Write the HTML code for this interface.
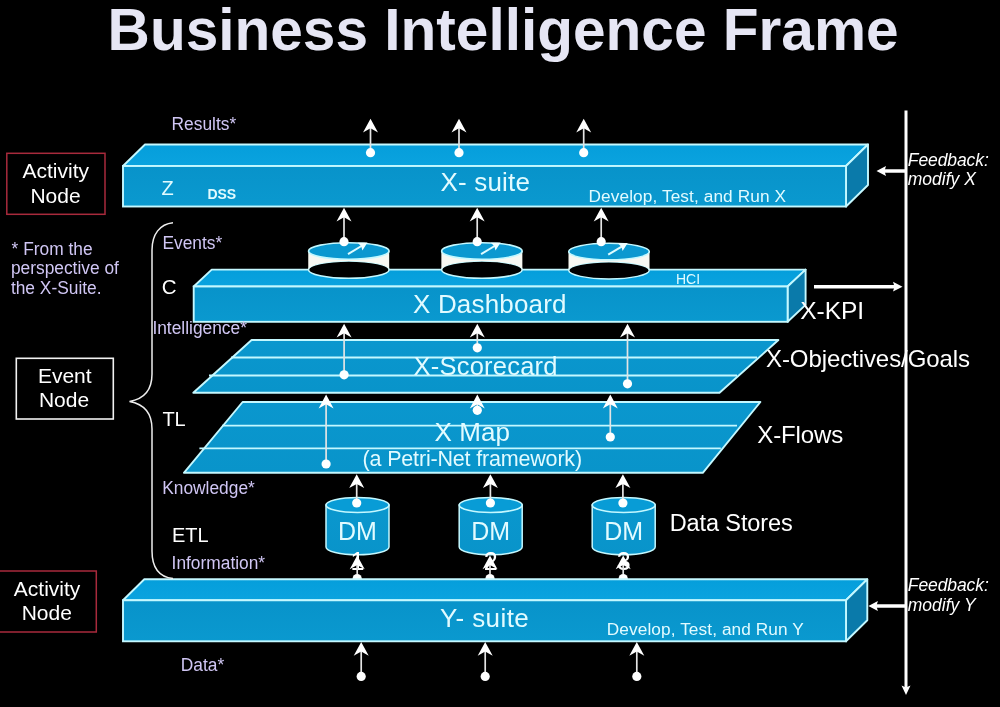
<!DOCTYPE html>
<html><head><meta charset="utf-8"><title>Business Intelligence Frame</title>
<style>html,body{margin:0;padding:0;background:#000;}body{width:1000px;height:707px;overflow:hidden;}svg{display:block}</style>
</head><body>
<svg style="will-change:transform" width="1000" height="707" viewBox="0 0 1000 707">
<defs>
<linearGradient id="gFront" x1="0" y1="0" x2="0" y2="1"><stop offset="0" stop-color="#0893ca"/><stop offset="1" stop-color="#0a99cf"/></linearGradient>
<linearGradient id="gTop" x1="0" y1="0" x2="0" y2="1"><stop offset="0" stop-color="#059edb"/><stop offset="1" stop-color="#0aa3df"/></linearGradient>
<linearGradient id="gPar" x1="0" y1="0" x2="0" y2="1"><stop offset="0" stop-color="#0a97ce"/><stop offset="1" stop-color="#0994ca"/></linearGradient>
</defs>
<rect width="1000" height="707" fill="#000"/>
<text x="107.6" y="49.5" font-size="59.5" fill="#e6e6f4" text-anchor="start" font-family="Liberation Sans, sans-serif" font-weight="bold" textLength="791" lengthAdjust="spacingAndGlyphs">Business Intelligence Frame</text>
<line x1="906" y1="110.5" x2="906" y2="688" stroke="#ffffff" stroke-width="3"/>
<polygon points="906,695 901.5,685.5 906,687.5 910.5,685.5" fill="#ffffff"/>
<circle cx="357.2" cy="578.6" r="4.6" fill="#fff"/>
<circle cx="490" cy="578.6" r="4.6" fill="#fff"/>
<circle cx="623.2" cy="578.6" r="4.6" fill="#fff"/>
<polygon points="123,166 145,144.5 868,144.5 846,166" fill="url(#gTop)" stroke="#c4f8ff" stroke-width="1.9" stroke-linejoin="round"/>
<polygon points="846,166 868,144.5 868,185.0 846,206.5" fill="#0a7aaa" stroke="#c4f8ff" stroke-width="1.9" stroke-linejoin="round"/>
<rect x="123" y="166" width="723" height="40.5" fill="url(#gFront)" stroke="#c4f8ff" stroke-width="1.9"/>
<text x="161.5" y="195.4" font-size="20" fill="#e2fbff" text-anchor="start" font-family="Liberation Sans, sans-serif" >Z</text>
<text x="207.4" y="199" font-size="14" fill="#e2fbff" text-anchor="start" font-family="Liberation Sans, sans-serif" font-weight="bold">DSS</text>
<text x="440.5" y="190.8" font-size="26" fill="#e2fbff" text-anchor="start" font-family="Liberation Sans, sans-serif" textLength="89.4">X- suite</text>
<text x="588.5" y="201.5" font-size="17.25" fill="#e2fbff" text-anchor="start" font-family="Liberation Sans, sans-serif" textLength="197.5">Develop, Test, and Run X</text>
<polygon points="123,600.3 144.3,579.3 867.3,579.3 846,600.3" fill="url(#gTop)" stroke="#c4f8ff" stroke-width="1.9" stroke-linejoin="round"/>
<polygon points="846,600.3 867.3,579.3 867.3,620.3 846,641.3" fill="#0a7aaa" stroke="#c4f8ff" stroke-width="1.9" stroke-linejoin="round"/>
<rect x="123" y="600.3" width="723" height="41.0" fill="url(#gFront)" stroke="#c4f8ff" stroke-width="1.9"/>
<text x="440" y="626.8" font-size="26" fill="#e2fbff" text-anchor="start" font-family="Liberation Sans, sans-serif" textLength="88.8">Y- suite</text>
<text x="606.8" y="635.2" font-size="17.25" fill="#e2fbff" text-anchor="start" font-family="Liberation Sans, sans-serif" textLength="197">Develop, Test, and Run Y</text>
<polygon points="193.7,286.5 211.7,269.6 805.6,269.6 787.6,286.5" fill="url(#gTop)" stroke="#c4f8ff" stroke-width="1.9" stroke-linejoin="round"/>
<polygon points="787.6,286.5 805.6,269.6 805.6,304.90000000000003 787.6,321.8" fill="#0a7aaa" stroke="#c4f8ff" stroke-width="1.9" stroke-linejoin="round"/>
<rect x="193.7" y="286.5" width="593.9000000000001" height="35.30000000000001" fill="url(#gFront)" stroke="#c4f8ff" stroke-width="1.9"/>
<text x="413" y="312.8" font-size="26" fill="#e2fbff" text-anchor="start" font-family="Liberation Sans, sans-serif" textLength="153.5">X Dashboard</text>
<text x="676" y="284" font-size="14" fill="#e2fbff" text-anchor="start" font-family="Liberation Sans, sans-serif" >HCI</text>
<polygon points="251.6,340 778.4,340 719.5,392.8 193.3,392.8" fill="url(#gPar)" stroke="#c4f8ff" stroke-width="1.9" stroke-linejoin="round"/>
<line x1="231" y1="357.5" x2="757" y2="357.5" stroke="#c4f8ff" stroke-width="1.8"/>
<line x1="209" y1="375.5" x2="737" y2="375.5" stroke="#c4f8ff" stroke-width="1.8"/>
<text x="413.5" y="375" font-size="25.5" fill="#e2fbff" text-anchor="start" font-family="Liberation Sans, sans-serif" textLength="144">X-Scorecard</text>
<polygon points="242.6,402 760.4,402 702.8,472.8 183.9,472.8" fill="url(#gPar)" stroke="#c4f8ff" stroke-width="1.9" stroke-linejoin="round"/>
<line x1="222" y1="425.7" x2="737" y2="425.7" stroke="#c4f8ff" stroke-width="1.8"/>
<line x1="199.4" y1="448.4" x2="720.8" y2="448.4" stroke="#c4f8ff" stroke-width="1.8"/>
<text x="434.5" y="440.7" font-size="26" fill="#e2fbff" text-anchor="start" font-family="Liberation Sans, sans-serif" textLength="75.5">X Map</text>
<text x="362.6" y="465.8" font-size="21.5" fill="#e2fbff" text-anchor="start" font-family="Liberation Sans, sans-serif" textLength="219.5">(a Petri-Net framework)</text>
<path d="M308.5,251 L308.5,269.7 A40.3,8.3 0 0 0 389.1,269.7 L389.1,251 Z" fill="#f8f8f2"/>
<ellipse cx="348.8" cy="269.7" rx="40.3" ry="8.600000000000001" fill="#000" stroke="#c4f8ff" stroke-width="1.5"/>
<path d="M308.5,251 L308.5,269.7 A40.3,8.600000000000001 0 0 1 389.1,269.7 L389.1,251 A40.3,8.3 0 0 1 308.5,251 Z" fill="#f8f8f2"/>
<ellipse cx="348.8" cy="251" rx="40.3" ry="8.3" fill="#0a98d0" stroke="#c4f8ff" stroke-width="1.6"/>
<line x1="348.0" y1="254.1" x2="362.3" y2="245.5" stroke="#dffcff" stroke-width="2"/>
<polygon points="367.5,242.4 362.40000000000003,250.4 361.2,246.2 357.7,242.7" fill="#f0ffff"/>
<path d="M441.59999999999997,251 L441.59999999999997,269.7 A40.3,8.3 0 0 0 522.1999999999999,269.7 L522.1999999999999,251 Z" fill="#f8f8f2"/>
<ellipse cx="481.9" cy="269.7" rx="40.3" ry="8.600000000000001" fill="#000" stroke="#c4f8ff" stroke-width="1.5"/>
<path d="M441.59999999999997,251 L441.59999999999997,269.7 A40.3,8.600000000000001 0 0 1 522.1999999999999,269.7 L522.1999999999999,251 A40.3,8.3 0 0 1 441.59999999999997,251 Z" fill="#f8f8f2"/>
<ellipse cx="481.9" cy="251" rx="40.3" ry="8.3" fill="#0a98d0" stroke="#c4f8ff" stroke-width="1.6"/>
<line x1="481.09999999999997" y1="254.1" x2="495.4" y2="245.5" stroke="#dffcff" stroke-width="2"/>
<polygon points="500.59999999999997,242.4 495.5,250.4 494.29999999999995,246.2 490.79999999999995,242.7" fill="#f0ffff"/>
<path d="M568.7,251.6 L568.7,270.3 A40.3,8.3 0 0 0 649.3,270.3 L649.3,251.6 Z" fill="#f8f8f2"/>
<ellipse cx="609" cy="270.3" rx="40.3" ry="8.600000000000001" fill="#000" stroke="#c4f8ff" stroke-width="1.5"/>
<path d="M568.7,251.6 L568.7,270.3 A40.3,8.600000000000001 0 0 1 649.3,270.3 L649.3,251.6 A40.3,8.3 0 0 1 568.7,251.6 Z" fill="#f8f8f2"/>
<ellipse cx="609" cy="251.6" rx="40.3" ry="8.3" fill="#0a98d0" stroke="#c4f8ff" stroke-width="1.6"/>
<line x1="608.2" y1="254.7" x2="622.5" y2="246.1" stroke="#dffcff" stroke-width="2"/>
<polygon points="627.7,243.0 622.6,251.0 621.4,246.79999999999998 617.9,243.29999999999998" fill="#f0ffff"/>
<path d="M326.0,505 L326.0,547 A31.5,7.8 0 0 0 389.0,547 L389.0,505 Z" fill="url(#gPar)" stroke="#c4f8ff" stroke-width="1.5"/>
<ellipse cx="357.5" cy="505" rx="31.5" ry="7.5" fill="#089cd6" stroke="#c4f8ff" stroke-width="1.6"/>
<text x="357.5" y="539.8" font-size="25" fill="#e2fbff" text-anchor="middle" font-family="Liberation Sans, sans-serif" >DM</text>
<text x="357.5" y="569.5" font-size="25" fill="#ffffff" text-anchor="middle" font-family="Liberation Sans, sans-serif" >1</text>
<path d="M459.2,505 L459.2,547 A31.5,7.8 0 0 0 522.2,547 L522.2,505 Z" fill="url(#gPar)" stroke="#c4f8ff" stroke-width="1.5"/>
<ellipse cx="490.7" cy="505" rx="31.5" ry="7.5" fill="#089cd6" stroke="#c4f8ff" stroke-width="1.6"/>
<text x="490.7" y="539.8" font-size="25" fill="#e2fbff" text-anchor="middle" font-family="Liberation Sans, sans-serif" >DM</text>
<text x="490.7" y="569.5" font-size="25" fill="#ffffff" text-anchor="middle" font-family="Liberation Sans, sans-serif" >2</text>
<path d="M592.2,505 L592.2,547 A31.5,7.8 0 0 0 655.2,547 L655.2,505 Z" fill="url(#gPar)" stroke="#c4f8ff" stroke-width="1.5"/>
<ellipse cx="623.7" cy="505" rx="31.5" ry="7.5" fill="#089cd6" stroke="#c4f8ff" stroke-width="1.6"/>
<text x="623.7" y="539.8" font-size="25" fill="#e2fbff" text-anchor="middle" font-family="Liberation Sans, sans-serif" >DM</text>
<text x="623.7" y="569.5" font-size="25" fill="#ffffff" text-anchor="middle" font-family="Liberation Sans, sans-serif" >3</text>
<line x1="370.5" y1="126.7" x2="370.5" y2="152.7" stroke="#e4e4e4" stroke-width="1.7"/>
<polygon points="370.5,118.7 363.0,132.5 370.5,128.3 378.0,132.5" fill="#ffffff"/>
<circle cx="370.5" cy="152.7" r="4.6" fill="#ffffff"/>
<line x1="459" y1="126.7" x2="459" y2="152.7" stroke="#e4e4e4" stroke-width="1.7"/>
<polygon points="459,118.7 451.5,132.5 459,128.3 466.5,132.5" fill="#ffffff"/>
<circle cx="459" cy="152.7" r="4.6" fill="#ffffff"/>
<line x1="583.7" y1="126.7" x2="583.7" y2="152.7" stroke="#e4e4e4" stroke-width="1.7"/>
<polygon points="583.7,118.7 576.2,132.5 583.7,128.3 591.2,132.5" fill="#ffffff"/>
<circle cx="583.7" cy="152.7" r="4.6" fill="#ffffff"/>
<line x1="344" y1="215.7" x2="344" y2="241.7" stroke="#e4e4e4" stroke-width="1.7"/>
<polygon points="344,207.7 336.5,221.5 344,217.29999999999998 351.5,221.5" fill="#ffffff"/>
<circle cx="344" cy="241.7" r="4.6" fill="#ffffff"/>
<line x1="477.2" y1="215.7" x2="477.2" y2="241.7" stroke="#e4e4e4" stroke-width="1.7"/>
<polygon points="477.2,207.7 469.7,221.5 477.2,217.29999999999998 484.7,221.5" fill="#ffffff"/>
<circle cx="477.2" cy="241.7" r="4.6" fill="#ffffff"/>
<line x1="601.2" y1="215.7" x2="601.2" y2="241.7" stroke="#e4e4e4" stroke-width="1.7"/>
<polygon points="601.2,207.7 593.7,221.5 601.2,217.29999999999998 608.7,221.5" fill="#ffffff"/>
<circle cx="601.2" cy="241.7" r="4.6" fill="#ffffff"/>
<line x1="344.1" y1="331.7" x2="344.1" y2="374.8" stroke="#e4e4e4" stroke-width="1.7"/>
<polygon points="344.1,323.7 336.6,337.5 344.1,333.3 351.6,337.5" fill="#ffffff"/>
<circle cx="344.1" cy="374.8" r="4.6" fill="#ffffff"/>
<line x1="477.3" y1="331.7" x2="477.3" y2="347.8" stroke="#e4e4e4" stroke-width="1.7"/>
<polygon points="477.3,323.7 469.8,337.5 477.3,333.3 484.8,337.5" fill="#ffffff"/>
<circle cx="477.3" cy="347.8" r="4.6" fill="#ffffff"/>
<line x1="627.5" y1="331.7" x2="627.5" y2="383.8" stroke="#e4e4e4" stroke-width="1.7"/>
<polygon points="627.5,323.7 620.0,337.5 627.5,333.3 635.0,337.5" fill="#ffffff"/>
<circle cx="627.5" cy="383.8" r="4.6" fill="#ffffff"/>
<line x1="326.1" y1="402.6" x2="326.1" y2="464" stroke="#e4e4e4" stroke-width="1.7"/>
<polygon points="326.1,394.6 318.6,408.40000000000003 326.1,404.20000000000005 333.6,408.40000000000003" fill="#ffffff"/>
<circle cx="326.1" cy="464" r="4.6" fill="#ffffff"/>
<line x1="477.3" y1="402.6" x2="477.3" y2="410.3" stroke="#e4e4e4" stroke-width="1.7"/>
<polygon points="477.3,394.6 469.8,408.40000000000003 477.3,404.20000000000005 484.8,408.40000000000003" fill="#ffffff"/>
<circle cx="477.3" cy="410.3" r="4.6" fill="#ffffff"/>
<line x1="610.3" y1="402.6" x2="610.3" y2="437" stroke="#e4e4e4" stroke-width="1.7"/>
<polygon points="610.3,394.6 602.8,408.40000000000003 610.3,404.20000000000005 617.8,408.40000000000003" fill="#ffffff"/>
<circle cx="610.3" cy="437" r="4.6" fill="#ffffff"/>
<line x1="356.7" y1="482.3" x2="356.7" y2="503" stroke="#e4e4e4" stroke-width="1.7"/>
<polygon points="356.7,474.3 349.2,488.1 356.7,483.90000000000003 364.2,488.1" fill="#ffffff"/>
<circle cx="356.7" cy="503" r="4.6" fill="#ffffff"/>
<line x1="490.4" y1="482.3" x2="490.4" y2="503" stroke="#e4e4e4" stroke-width="1.7"/>
<polygon points="490.4,474.3 482.9,488.1 490.4,483.90000000000003 497.9,488.1" fill="#ffffff"/>
<circle cx="490.4" cy="503" r="4.6" fill="#ffffff"/>
<line x1="622.9" y1="482.3" x2="622.9" y2="503" stroke="#e4e4e4" stroke-width="1.7"/>
<polygon points="622.9,474.3 615.4,488.1 622.9,483.90000000000003 630.4,488.1" fill="#ffffff"/>
<circle cx="622.9" cy="503" r="4.6" fill="#ffffff"/>
<line x1="357.2" y1="563.5" x2="357.2" y2="574" stroke="#e4e4e4" stroke-width="1.7"/>
<polygon points="357.2,555.5 349.7,569.3 357.2,565.1 364.7,569.3" fill="#ffffff"/>
<line x1="490" y1="563.5" x2="490" y2="574" stroke="#e4e4e4" stroke-width="1.7"/>
<polygon points="490,555.5 482.5,569.3 490,565.1 497.5,569.3" fill="#ffffff"/>
<line x1="623.2" y1="563.5" x2="623.2" y2="574" stroke="#e4e4e4" stroke-width="1.7"/>
<polygon points="623.2,555.5 615.7,569.3 623.2,565.1 630.7,569.3" fill="#ffffff"/>
<line x1="361.2" y1="650" x2="361.2" y2="676.4" stroke="#e4e4e4" stroke-width="1.7"/>
<polygon points="361.2,642 353.7,655.8 361.2,651.6 368.7,655.8" fill="#ffffff"/>
<circle cx="361.2" cy="676.4" r="4.6" fill="#ffffff"/>
<line x1="485.2" y1="650" x2="485.2" y2="676.4" stroke="#e4e4e4" stroke-width="1.7"/>
<polygon points="485.2,642 477.7,655.8 485.2,651.6 492.7,655.8" fill="#ffffff"/>
<circle cx="485.2" cy="676.4" r="4.6" fill="#ffffff"/>
<line x1="636.8" y1="650" x2="636.8" y2="676.4" stroke="#e4e4e4" stroke-width="1.7"/>
<polygon points="636.8,642 629.3,655.8 636.8,651.6 644.3,655.8" fill="#ffffff"/>
<circle cx="636.8" cy="676.4" r="4.6" fill="#ffffff"/>
<line x1="883.5" y1="171" x2="906" y2="171" stroke="#fff" stroke-width="3.5"/>
<polygon points="876.5,171 886.0,166.1 884.5,171 886.0,175.9" fill="#fff"/>
<line x1="875.4" y1="606" x2="906" y2="606" stroke="#fff" stroke-width="3.5"/>
<polygon points="868.4,606 877.9,601.1 876.4,606 877.9,610.9" fill="#fff"/>
<line x1="814" y1="286.7" x2="896.5" y2="286.7" stroke="#fff" stroke-width="3.5"/>
<polygon points="902.5,286.7 893.0,281.8 894.5,286.7 893.0,291.59999999999997" fill="#fff"/>
<text x="907.8" y="165.7" font-size="17.5" fill="#fff" text-anchor="start" font-family="Liberation Sans, sans-serif" font-style="italic" textLength="81">Feedback:</text>
<text x="907.8" y="185.4" font-size="17.5" fill="#fff" text-anchor="start" font-family="Liberation Sans, sans-serif" font-style="italic">modify X</text>
<text x="907.8" y="591.2" font-size="17.5" fill="#fff" text-anchor="start" font-family="Liberation Sans, sans-serif" font-style="italic" textLength="81">Feedback:</text>
<text x="907.8" y="610.8" font-size="17.5" fill="#fff" text-anchor="start" font-family="Liberation Sans, sans-serif" font-style="italic">modify Y</text>
<text x="800.2" y="318.7" font-size="24.5" fill="#fff" text-anchor="start" font-family="Liberation Sans, sans-serif" >X-KPI</text>
<text x="766" y="366.6" font-size="24" fill="#fff" text-anchor="start" font-family="Liberation Sans, sans-serif" textLength="204">X-Objectives/Goals</text>
<text x="757.3" y="442.8" font-size="24" fill="#fff" text-anchor="start" font-family="Liberation Sans, sans-serif" textLength="86">X-Flows</text>
<text x="669.7" y="530.7" font-size="23.5" fill="#fff" text-anchor="start" font-family="Liberation Sans, sans-serif" textLength="123">Data Stores</text>
<rect x="6.8" y="153.3" width="98.2" height="61" fill="none" stroke="#a82a3c" stroke-width="1.5"/>
<text x="55.8" y="178.4" font-size="21" fill="#fff" text-anchor="middle" font-family="Liberation Sans, sans-serif" >Activity</text>
<text x="55.5" y="202.6" font-size="21" fill="#fff" text-anchor="middle" font-family="Liberation Sans, sans-serif" >Node</text>
<rect x="-2" y="571" width="98.3" height="61" fill="none" stroke="#a82a3c" stroke-width="1.5"/>
<text x="47.1" y="596.1" font-size="21" fill="#fff" text-anchor="middle" font-family="Liberation Sans, sans-serif" >Activity</text>
<text x="46.8" y="619.9" font-size="21" fill="#fff" text-anchor="middle" font-family="Liberation Sans, sans-serif" >Node</text>
<rect x="16.3" y="358.3" width="97" height="60.7" fill="none" stroke="#f2f2f2" stroke-width="1.6"/>
<text x="64.8" y="382.6" font-size="21" fill="#fff" text-anchor="middle" font-family="Liberation Sans, sans-serif" >Event</text>
<text x="64" y="407" font-size="21" fill="#fff" text-anchor="middle" font-family="Liberation Sans, sans-serif" >Node</text>
<text x="11.6" y="254.5" font-size="18" fill="#d0c6f4" text-anchor="start" font-family="Liberation Sans, sans-serif" textLength="81" lengthAdjust="spacingAndGlyphs">* From the</text>
<text x="10.9" y="274.1" font-size="18" fill="#d0c6f4" text-anchor="start" font-family="Liberation Sans, sans-serif" textLength="108" lengthAdjust="spacingAndGlyphs">perspective of</text>
<text x="10.9" y="293.5" font-size="18" fill="#d0c6f4" text-anchor="start" font-family="Liberation Sans, sans-serif" textLength="90.7" lengthAdjust="spacingAndGlyphs">the X-Suite.</text>
<text x="171.6" y="130.3" font-size="18" fill="#d0c6f4" text-anchor="start" font-family="Liberation Sans, sans-serif" textLength="64.6" lengthAdjust="spacingAndGlyphs">Results*</text>
<text x="162.4" y="249.3" font-size="18" fill="#d0c6f4" text-anchor="start" font-family="Liberation Sans, sans-serif" textLength="59.8" lengthAdjust="spacingAndGlyphs">Events*</text>
<text x="152.4" y="333.7" font-size="18" fill="#d0c6f4" text-anchor="start" font-family="Liberation Sans, sans-serif" textLength="94.5" lengthAdjust="spacingAndGlyphs">Intelligence*</text>
<text x="162.2" y="493.9" font-size="18" fill="#d0c6f4" text-anchor="start" font-family="Liberation Sans, sans-serif" textLength="92.6" lengthAdjust="spacingAndGlyphs">Knowledge*</text>
<text x="171.6" y="569.0" font-size="18" fill="#d0c6f4" text-anchor="start" font-family="Liberation Sans, sans-serif" textLength="93.5" lengthAdjust="spacingAndGlyphs">Information*</text>
<text x="180.8" y="671.2" font-size="18" fill="#d0c6f4" text-anchor="start" font-family="Liberation Sans, sans-serif" textLength="43.4" lengthAdjust="spacingAndGlyphs">Data*</text>
<text x="161.7" y="293.5" font-size="20.5" fill="#fff" text-anchor="start" font-family="Liberation Sans, sans-serif" >C</text>
<text x="162.4" y="426.3" font-size="20" fill="#fff" text-anchor="start" font-family="Liberation Sans, sans-serif" >TL</text>
<text x="172" y="542" font-size="20" fill="#fff" text-anchor="start" font-family="Liberation Sans, sans-serif" >ETL</text>
<path d="M173,222.7 C160,224 152,234 152,250 L152,374 C152,390 144,399 129.5,401.4 C144,404 152,413 152,429 L152,551 C152,567 159,577 173,578.6" fill="none" stroke="#eeeeee" stroke-width="1.5"/>
</svg></body></html>
